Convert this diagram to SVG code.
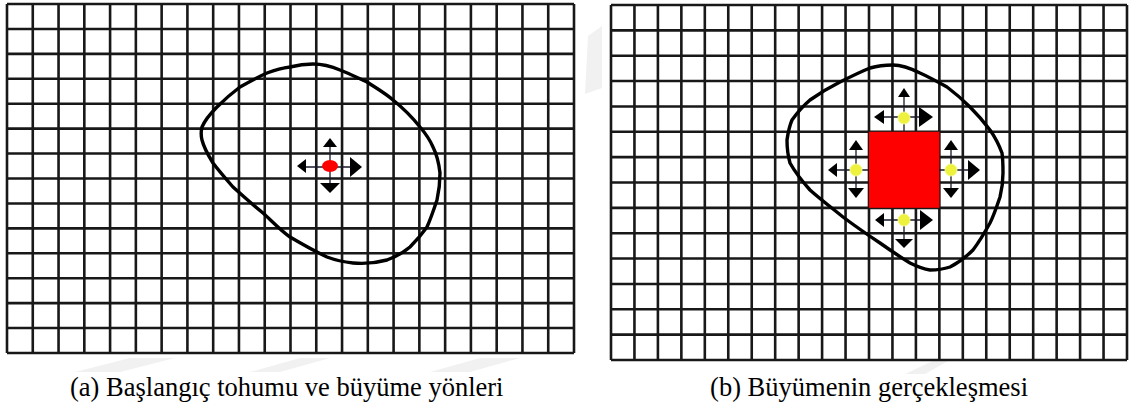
<svg xmlns="http://www.w3.org/2000/svg" width="1131" height="410" viewBox="0 0 1131 410">
<style>
.grid{fill:none;stroke:#181818;stroke-width:2.6}
.blob{fill:none;stroke:#000;stroke-width:3.4;stroke-linejoin:round;stroke-linecap:round}
.shaft{fill:none;stroke:#1a1a2a;stroke-width:1.3}
.head{fill:#000}
.seed{fill:#ff0000}
.front{fill:#eef23c;stroke:#f6f890;stroke-width:1}
.region{fill:#ff0000}
.wm{fill:#f1f1f1}
.cap{font-family:"Liberation Serif","Times New Roman",serif;font-size:26.5px;fill:#000}
</style>
<rect width="1131" height="410" fill="#fff"/>
<g id="watermark">
<polygon class="wm" points="588,36 602,26 602,88 585,94"/>
<polygon class="wm" points="75,372 130,358 175,358 120,372"/>
<polygon class="wm" points="250,372 300,358 330,358 280,372"/>
<polygon class="wm" points="430,372 480,358 520,358 470,372"/>
<polygon class="wm" points="905,374 935,360 950,360 925,374"/>
</g>
<g id="panel-a">
<path class="grid" d="M7,4V353M32.77,4V353M58.55,4V353M84.32,4V353M110.09,4V353M135.86,4V353M161.64,4V353M187.41,4V353M213.18,4V353M238.95,4V353M264.73,4V353M290.5,4V353M316.27,4V353M342.05,4V353M367.82,4V353M393.59,4V353M419.36,4V353M445.14,4V353M470.91,4V353M496.68,4V353M522.45,4V353M548.23,4V353M574,4V353
M7,4H574M7,28.93H574M7,53.86H574M7,78.79H574M7,103.71H574M7,128.64H574M7,153.57H574M7,178.5H574M7,203.43H574M7,228.36H574M7,253.29H574M7,278.21H574M7,303.14H574M7,328.07H574M7,353H574"/>
<path class="blob" d="M313,64 C325,64 333,67 340,70 C350,74 358,78 367,82 C376,88 385,93 393,100 C403,108 412,117 420,127 C426,134 430,140 433,147 C437,155 439,164 440,173 C440,182 439,191 437,200 C434,209 431,218 427,227 C422,234 416,241 410,247 C403,253 395,257 387,260 C376,263 364,264 353,263 C344,262 335,260 327,257 C314,251 302,244 290,237 C280,230 272,221 263,213 C253,205 243,196 233,187 C226,179 219,171 213,163 C208,155 204,148 202,140 C201,136 201,131 202,127 C205,120 211,113 217,107 C224,100 232,93 240,87 C249,82 258,77 267,73 C275,70 282,68 290,67 C298,65 305,64 313,64 Z"/>
<g id="seed-a">
<path class="shaft" d="M330,143V188M302,167H356"/>
<polygon class="head" points="330,138 337,147 323,147"/>
<polygon class="head" points="297,166 306,159 306,173"/>
<polygon class="head" points="362,167 350,157 350,177"/>
<polygon class="head" points="330,193 320,183 340,183"/>
<ellipse class="seed" cx="330" cy="166" rx="8" ry="6"/>
</g>
</g>
<g id="panel-b">
<path class="grid" d="M611,5V360M634.45,5V360M657.91,5V360M681.36,5V360M704.82,5V360M728.27,5V360M751.73,5V360M775.18,5V360M798.64,5V360M822.09,5V360M845.55,5V360M869,5V360M892.45,5V360M915.91,5V360M939.36,5V360M962.82,5V360M986.27,5V360M1009.73,5V360M1033.18,5V360M1056.64,5V360M1080.09,5V360M1103.55,5V360M1127,5V360
M611,5H1127M611,30.36H1127M611,55.71H1127M611,81.07H1127M611,106.43H1127M611,131.79H1127M611,157.14H1127M611,182.5H1127M611,207.86H1127M611,233.21H1127M611,258.57H1127M611,283.93H1127M611,309.29H1127M611,334.64H1127M611,360H1127"/>
<path class="blob" d="M893,65 C903,65 912,69 920,73 C929,77 938,82 947,87 C955,93 963,100 970,107 C977,114 984,122 990,130 C995,137 999,145 1002,153 C1003,160 1003,166 1003,173 C1003,181 1002,189 1000,197 C997,206 994,215 990,223 C985,232 979,242 973,250 C966,257 958,263 950,267 C944,269 937,270 930,270 C923,269 916,266 910,263 C900,257 890,250 880,243 C868,235 855,226 843,217 C832,208 820,199 810,190 C802,181 795,172 790,163 C788,156 787,148 787,140 C788,133 789,127 792,120 C797,113 803,106 810,100 C820,93 830,87 840,82 C850,77 860,72 870,68 C877,66 885,65 893,65 Z"/>
<rect id="grown-region" class="region" x="869" y="131.8" width="70.4" height="76"/>
<g id="front-top">
<path class="shaft" d="M904,94V131M880,117H926"/>
<polygon class="head" points="904,88 910,97 898,97"/>
<polygon class="head" points="874,117 884,110 884,124"/>
<polygon class="head" points="933,117 919,107 919,127"/>
<circle class="front" cx="904" cy="118" r="6"/>
</g>
<g id="front-left">
<path class="shaft" d="M856,146V192M834,170H869"/>
<polygon class="head" points="856,140 863,150 849,150"/>
<polygon class="head" points="828,170 837,163 837,177"/>
<polygon class="head" points="856,198 848,188 864,188"/>
<circle class="front" cx="856" cy="170" r="6"/>
</g>
<g id="front-right">
<path class="shaft" d="M951,146V192M939,170H974"/>
<polygon class="head" points="951,140 958,150 944,150"/>
<polygon class="head" points="980,170 968,160 968,180"/>
<polygon class="head" points="951,198 943,188 959,188"/>
<circle class="front" cx="951" cy="170" r="6"/>
</g>
<g id="front-bottom">
<path class="shaft" d="M904,208V243M880,220H926"/>
<polygon class="head" points="875,220 884,213 884,227"/>
<polygon class="head" points="933,220 920,210 920,230"/>
<polygon class="head" points="904,248 895,239 913,239"/>
<circle class="front" cx="904" cy="220" r="6"/>
</g>
</g>
<g id="captions">
<text class="cap" x="70" y="396">(a) Başlangıç tohumu ve büyüme yönleri</text>
<text class="cap" x="1028" y="396" text-anchor="end">(b) Büyümenin gerçekleşmesi</text>
</g>
</svg>
